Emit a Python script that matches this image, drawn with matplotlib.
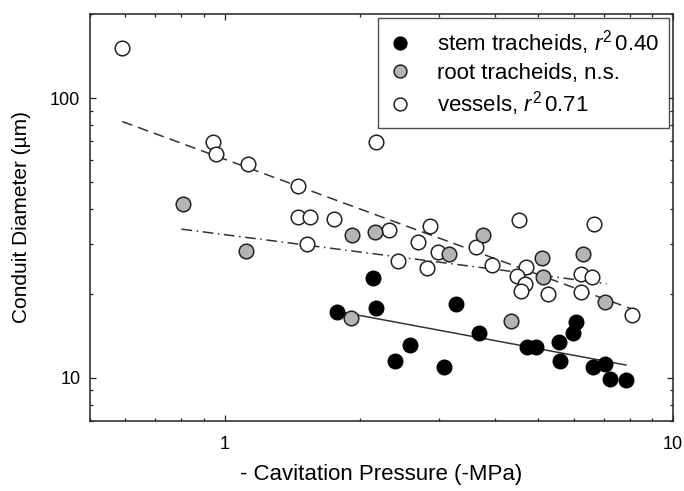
import matplotlib
matplotlib.use("Agg")
import matplotlib.pyplot as plt
from matplotlib.ticker import LogLocator, NullFormatter, FixedLocator, FixedFormatter

plt.rcParams['font.family'] = ['Liberation Sans', 'DejaVu Sans']
plt.rcParams['mathtext.fontset'] = 'custom'
plt.rcParams['mathtext.rm'] = 'Liberation Sans'
plt.rcParams['mathtext.it'] = 'Liberation Sans:italic'

# stem tracheids (black)
stem_x = [1.775, 2.143, 2.173, 2.396, 2.588, 3.087, 3.278, 3.690, 4.715, 4.945,
          5.576, 5.595, 5.99, 6.065, 6.639, 7.05, 7.236, 7.855]
stem_y = [17.2, 22.8, 17.8, 11.5, 13.1, 10.9, 18.3, 14.4, 12.9, 12.9,
          13.4, 11.5, 14.5, 15.8, 10.9, 11.2, 9.86, 9.83]

# root tracheids (grey)
root_x = [0.805, 1.112, 1.908, 1.918, 2.163, 3.168, 3.760, 4.347, 5.108, 5.134, 6.306, 7.05]
root_y = [41.8, 28.5, 16.3, 32.5, 33.2, 27.8, 32.5, 16.0, 26.9, 23.0, 27.8, 18.7]

# vessels (white)
vess_x = [0.588, 0.942, 0.955, 1.127, 1.458, 2.173, 1.458, 1.548, 1.521, 1.751,
          2.327, 2.438, 2.869, 2.701, 2.994, 2.829, 3.634, 3.952, 4.539, 4.690,
          4.479, 4.675, 4.571, 5.267, 6.223, 6.584, 6.223, 6.664, 8.088]
vess_y = [150.9, 69.4, 63.1, 58.1, 48.6, 69.4, 37.6, 37.6, 30.2, 37.0,
          33.7, 26.2, 34.8, 30.5, 28.1, 24.6, 29.3, 25.4, 36.8, 24.9,
          23.1, 21.7, 20.4, 19.95, 23.4, 23.0, 20.2, 35.5, 16.8]

# regression line end points
stem_fit_x = [1.775, 7.855]
stem_fit_y = [17.3, 11.1]
root_fit_x = [0.8, 7.11]
root_fit_y = [34.0, 21.7]
vess_fit_x = [0.59, 8.1]
vess_fit_y = [82.5, 17.6]

fig = plt.figure(figsize=(6.84, 4.91), dpi=100)
ax = fig.add_axes([0.1316, 0.1426, 0.8523, 0.8289])

lc = '#333333'
ax.plot(vess_fit_x, vess_fit_y, color=lc, lw=1.1, ls=(0, (7, 4)))
ax.plot(root_fit_x, root_fit_y, color=lc, lw=1.1, ls=(0, (7, 3, 1, 3)))
ax.plot(stem_fit_x, stem_fit_y, color=lc, lw=1.1, ls='-')

ms = 10.5
s, = ax.plot(stem_x, stem_y, 'o', ms=ms, mfc='black', mec='black', mew=1.0, ls='none',
             label=r'stem tracheids, $r^2\,$0.40')
v, = ax.plot(vess_x, vess_y, 'o', ms=ms, mfc='white', mec='#222222', mew=1.1, ls='none',
             label=r'vessels, $r^2\,$0.71')
r, = ax.plot(root_x, root_y, 'o', ms=ms, mfc='#b4b4b4', mec='#222222', mew=1.1, ls='none',
             label='root tracheids, n.s.')

ax.set_xscale('log')
ax.set_yscale('log')
ax.set_xlim(0.5, 10)
ax.set_ylim(7, 200)

ax.xaxis.set_major_locator(FixedLocator([1, 10]))
ax.xaxis.set_major_formatter(FixedFormatter(['1', '10']))
ax.xaxis.set_minor_locator(LogLocator(base=10, subs=range(2, 10)))
ax.xaxis.set_minor_formatter(NullFormatter())
ax.yaxis.set_major_locator(FixedLocator([10, 100]))
ax.yaxis.set_major_formatter(FixedFormatter(['10', '100']))
ax.yaxis.set_minor_locator(LogLocator(base=10, subs=range(2, 10)))
ax.yaxis.set_minor_formatter(NullFormatter())

ax.tick_params(which='both', direction='in', top=True, right=True, width=0.9, color='#222222')
ax.tick_params(which='major', length=4.5, labelsize=13)
ax.tick_params(which='minor', length=2.5)
ax.tick_params(axis='x', which='major', pad=10.5)
ax.tick_params(axis='y', which='major', pad=7)
for sp in ax.spines.values():
    sp.set_linewidth(1.1)
    sp.set_color('#222222')

ax.set_xlabel('- Cavitation Pressure (-MPa)', fontsize=16, labelpad=8)
ax.set_ylabel('Conduit Diameter (\u00b5m)', fontsize=15, labelpad=14)

leg = ax.legend(handles=[s, r, v], loc='upper right', bbox_to_anchor=(1, 1),
                fontsize=16, frameon=True, fancybox=False, borderaxespad=0.18,
                labelspacing=0.26, handlelength=1.15, handletextpad=1.05, borderpad=0.45,
                markerscale=0.88)
leg.get_frame().set_edgecolor('#222222')
leg.get_frame().set_linewidth(1.0)

fig.savefig('out.png', dpi=100)
